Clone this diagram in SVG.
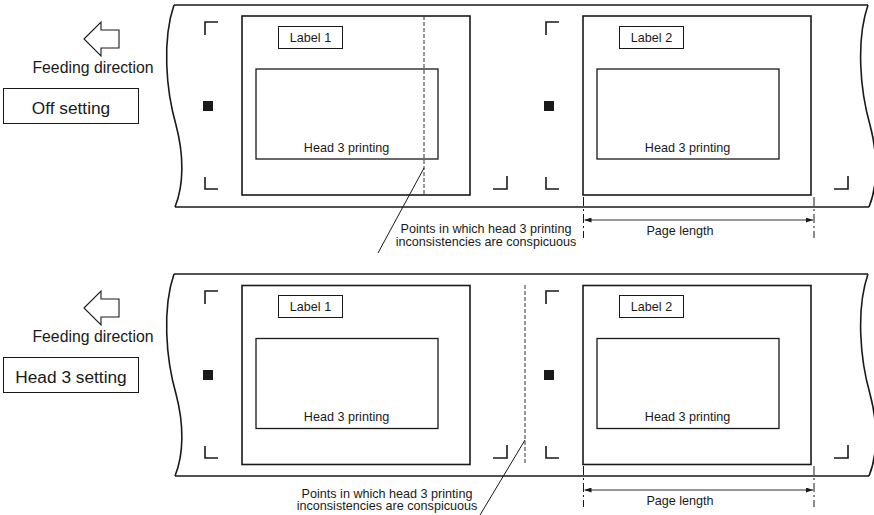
<svg xmlns="http://www.w3.org/2000/svg" width="874" height="515" viewBox="0 0 874 515">
<defs>
<style>
text{font-family:"Liberation Sans",Arial,sans-serif;fill:#1a1a1a}
.big{font-size:17.3px}
.feed{font-size:15.8px}
.sm{font-size:12.6px}
.web{fill:none;stroke:#1a1a1a;stroke-width:1.6}
.page{fill:none;stroke:#1a1a1a;stroke-width:1.6}
.head{fill:none;stroke:#1a1a1a;stroke-width:1.3}
.box{fill:none;stroke:#1a1a1a;stroke-width:1}
.mark{fill:none;stroke:#1a1a1a;stroke-width:1.6}
.sq{fill:#1a1a1a}
.arrow{fill:#fff;stroke:#1a1a1a;stroke-width:1.1}
.dash{fill:none;stroke:#333;stroke-width:1;stroke-dasharray:4 2}
.dd{fill:none;stroke:#1a1a1a;stroke-width:1;stroke-dasharray:9 3 2 3}
.lead{fill:none;stroke:#1a1a1a;stroke-width:1}
.dim{fill:none;stroke:#1a1a1a;stroke-width:0.9;marker-start:url(#ah);marker-end:url(#ah)}
</style>
<marker id="ah" viewBox="0 0 7 5" refX="7" refY="2.5" markerWidth="7" markerHeight="5" markerUnits="userSpaceOnUse" orient="auto-start-reverse">
<path d="M0,0 L7,2.5 L0,5 z" fill="#1a1a1a"/>
</marker>
</defs>

<!-- Panel 1 -->
<g id="feed-arrow-1"><polygon class="arrow" points="84,39 101,22 101,30 119,30 119,48 101,48 101,56"/></g>
<g id="feed-text-1"><text class="feed" x="93" y="73" text-anchor="middle">Feeding direction</text></g>
<g id="setting-1"><rect class="box" x="3.5" y="88.5" width="135" height="35"/><text class="big" x="71" y="113.5" text-anchor="middle">Off setting</text></g>
<g id="web-1">
<path class="web" d="M174,5 H868 M175,207 H869"/>
<path class="web" d="M174,5 C162,40 166,90 176,125 C184,155 184,185 175,207"/>
<path class="web" d="M868,5 C856,40 860,90 870,125 C878,155 878,185 869,207"/>
</g>
<g id="marks-1">
<path class="mark" d="M205,35 V22 H218 M205,177 V189 H218 M493,189 H507 V176 M546,35 V22 H559 M546,177 V189 H559 M834,189 H848 V176"/>
<rect class="sq" x="203" y="101" width="10" height="10"/>
<rect class="sq" x="544" y="101" width="10" height="10"/>
</g>
<g id="label1-1">
<rect class="page" x="242" y="16" width="228" height="179"/>
<rect class="box" x="278.5" y="26.5" width="64" height="22"/>
<text class="sm" x="310.5" y="42" text-anchor="middle">Label 1</text>
<rect class="head" x="256" y="69" width="182" height="90"/>
<text class="sm" x="346.5" y="152" text-anchor="middle">Head 3 printing</text>
</g>
<g id="label2-1">
<rect class="page" x="583" y="16" width="228" height="179"/>
<rect class="box" x="619.5" y="26.5" width="64" height="22"/>
<text class="sm" x="651.5" y="42" text-anchor="middle">Label 2</text>
<rect class="head" x="597" y="69" width="182" height="90"/>
<text class="sm" x="687.5" y="152" text-anchor="middle">Head 3 printing</text>
</g>
<g id="seam-1"><line class="dash" x1="424" y1="16" x2="424" y2="195"/></g>
<g id="note-1">
<text class="sm" x="486" y="233" text-anchor="middle">Points in which head 3 printing</text>
<text class="sm" x="486" y="246" text-anchor="middle">inconsistencies are conspicuous</text>
</g>
<g id="pagelen-1">
<line class="dd" x1="583.5" y1="197" x2="583.5" y2="238"/>
<line class="dd" x1="814" y1="197" x2="814" y2="238"/>
<text class="sm" x="680" y="235" text-anchor="middle">Page length</text>
</g>

<!-- Panel 2 -->
<g id="feed-arrow-2"><polygon class="arrow" points="84,308 101,291 101,299 119,299 119,317 101,317 101,325"/></g>
<g id="feed-text-2"><text class="feed" x="93" y="342" text-anchor="middle">Feeding direction</text></g>
<g id="setting-2"><rect class="box" x="3.5" y="357.5" width="135" height="35"/><text class="big" x="71" y="382.5" text-anchor="middle">Head 3 setting</text></g>
<g id="web-2">
<path class="web" d="M174,274 H868 M175,476 H869"/>
<path class="web" d="M174,274 C162,309 166,359 176,394 C184,424 184,454 175,476"/>
<path class="web" d="M868,274 C856,309 860,359 870,394 C878,424 878,454 869,476"/>
</g>
<g id="marks-2">
<path class="mark" d="M205,304 V291 H218 M205,446 V458 H218 M493,458 H507 V445 M546,304 V291 H559 M546,446 V458 H559 M834,458 H848 V445"/>
<rect class="sq" x="203" y="370" width="10" height="10"/>
<rect class="sq" x="544" y="370" width="10" height="10"/>
</g>
<g id="label1-2">
<rect class="page" x="242" y="285.5" width="228" height="179"/>
<rect class="box" x="278.5" y="295.5" width="64" height="22"/>
<text class="sm" x="310.5" y="311" text-anchor="middle">Label 1</text>
<rect class="head" x="256" y="338.5" width="182" height="90"/>
<text class="sm" x="346.5" y="421" text-anchor="middle">Head 3 printing</text>
</g>
<g id="label2-2">
<rect class="page" x="583" y="285.5" width="228" height="179"/>
<rect class="box" x="619.5" y="295.5" width="64" height="22"/>
<text class="sm" x="651.5" y="311" text-anchor="middle">Label 2</text>
<rect class="head" x="597" y="338.5" width="182" height="90"/>
<text class="sm" x="687.5" y="421" text-anchor="middle">Head 3 printing</text>
</g>
<g id="seam-2"><line class="dash" x1="525" y1="285" x2="525" y2="465"/></g>
<g id="note-2">
<text class="sm" x="387" y="497.5" text-anchor="middle">Points in which head 3 printing</text>
<text class="sm" x="387" y="510" text-anchor="middle">inconsistencies are conspicuous</text>
</g>
<g id="pagelen-2">
<line class="dd" x1="583.5" y1="466" x2="583.5" y2="507"/>
<line class="dd" x1="814" y1="466" x2="814" y2="507"/>
<text class="sm" x="680" y="505" text-anchor="middle">Page length</text>
</g>

<g id="connectors">
<line class="lead" x1="424" y1="168" x2="378" y2="253"/>
<line class="lead" x1="525" y1="440" x2="480" y2="515"/>
<line class="dim" x1="584.5" y1="220" x2="813" y2="220"/>
<line class="dim" x1="584.5" y1="490" x2="813" y2="490"/>
</g>
</svg>
